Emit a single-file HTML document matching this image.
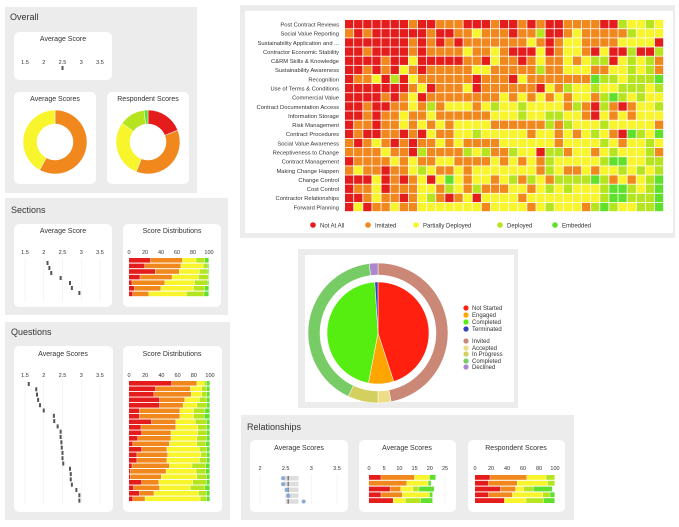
<!DOCTYPE html>
<html><head><meta charset="utf-8"><style>
html,body{margin:0;padding:0;background:#fff;}
svg{display:block;font-family:"Liberation Sans",sans-serif;}
</style></head><body>
<svg id="root" width="679" height="527" viewBox="0 0 679 527" xmlns="http://www.w3.org/2000/svg">
<!-- panels -->
<rect x="5" y="7" width="192" height="186" fill="#ececec"/>
<text x="10" y="20" font-size="9" fill="#333">Overall</text>
<rect x="14" y="32" width="98" height="48" rx="5" fill="#fff"/>
<text x="63" y="41" font-size="7" text-anchor="middle" fill="#333">Average Score</text>
<rect x="14" y="92" width="82" height="92" rx="5" fill="#fff"/>
<text x="55" y="101" font-size="7" text-anchor="middle" fill="#333">Average Scores</text>
<rect x="107" y="92" width="82" height="92" rx="5" fill="#fff"/>
<text x="148" y="101" font-size="7" text-anchor="middle" fill="#333">Respondent Scores</text>

<rect x="5" y="198" width="223" height="117" fill="#ececec"/>
<text x="11" y="213" font-size="9" fill="#333">Sections</text>
<rect x="14" y="224" width="98" height="83" rx="5" fill="#fff"/>
<text x="63" y="233" font-size="7" text-anchor="middle" fill="#333">Average Score</text>
<rect x="123" y="224" width="98" height="83" rx="5" fill="#fff"/>
<text x="172" y="233" font-size="7" text-anchor="middle" fill="#333">Score Distributions</text>

<rect x="5" y="322" width="225" height="198" fill="#ececec"/>
<text x="11" y="335" font-size="9" fill="#333">Questions</text>
<rect x="14" y="346" width="99" height="166" rx="5" fill="#fff"/>
<text x="63" y="356" font-size="7" text-anchor="middle" fill="#333">Average Scores</text>
<rect x="123" y="346" width="99" height="166" rx="5" fill="#fff"/>
<text x="172" y="356" font-size="7" text-anchor="middle" fill="#333">Score Distributions</text>

<rect x="240" y="5" width="435" height="233" fill="#ececec"/>
<rect x="245" y="11" width="428" height="222" fill="#fff"/>

<rect x="298" y="249" width="220" height="159" fill="#ececec"/>
<rect x="305" y="255" width="209" height="147" fill="#fff"/>

<rect x="241" y="415" width="333" height="105" fill="#ececec"/>
<text x="247" y="430" font-size="9" fill="#333">Relationships</text>
<rect x="250" y="440" width="98" height="72" rx="5" fill="#fff"/>
<text x="299" y="450" font-size="7" text-anchor="middle" fill="#333">Average Scores</text>
<rect x="359" y="440" width="97" height="72" rx="5" fill="#fff"/>
<text x="407" y="450" font-size="7" text-anchor="middle" fill="#333">Average Scores</text>
<rect x="468" y="440" width="97" height="72" rx="5" fill="#fff"/>
<text x="516" y="450" font-size="7" text-anchor="middle" fill="#333">Respondent Scores</text>
<g id="dyn"></g>
</svg>
<script>
const COLORS = ['#e51c1c','#f0881e','#f9f52c','#b6e520','#5fe02c'];
const heatRows = ["Post Contract Reviews","Social Value Reporting","Sustainability Application and ...","Contractor Economic Stability","C&RM Skills & Knowledge","Sustainability Awareness","Recognition","Use of Terms & Conditions","Commercial Value","Contract Documentation Access","Information Storage","Risk Management","Contract Procedures","Social Value Awareness","Receptiveness to Change","Contract Management","Making Change Happen","Change Control","Cost Control","Contractor Relationships","Forward Planning"];
const heatValues = [
"00000001001110001001010011110032232",
"10100000010011211101130012111113222",
"00000001010101111111210122111122220",
"00100001011112112100020122102003003",
"00001002000001102110121121233023231",
"00101021011111221111131122211223231",
"01120302111111011102111111143323334",
"00000001201112011111102132232233323",
"00001012011111111212121212213432322",
"00100112131222123223222213103101223",
"00101121121111112223223322102121222",
"01101121212122221111113132223222221",
"01001101021122322222122121232104324",
"10121010112121111222222122223212232",
"11112110311113231132203312212322231",
"01111212112211112121213222223442233",
"12110112321121222222213211212232323",
"00020101202421221231321333343121234",
"01120111221321311122123232223443234",
"00121101231012022221222222223443334",
"02011211222222212222123222134322334"];
const heatLegend = ["Not At All","Imitated","Partially Deployed","Deployed","Embedded"];

const overallAvg = [2.5];
const overallAvgDonut = [0,58,42,0,0];
const overallRespDonut = [19,37,29,13,2];
const avgTicks = [1.5,2,2.5,3,3.5];
const pctTicks = [0,20,40,60,80,100];
const sectionAvg = [2.1,2.15,2.2,2.45,2.7,2.75,2.95];
const sectionDist = [[27,40,17,11,5],[20,45,28,5,2],[33,30,25,10,2],[14,40,33,13,0],[4,41,37,16,2],[7,33,41,14,5],[5,20,47,22,6]];
const questionAvg = [1.6,1.8,1.82,1.85,1.9,2.0,2.27,2.28,2.37,2.45,2.45,2.47,2.48,2.5,2.5,2.52,2.7,2.72,2.72,2.75,2.87,2.95,2.95];
const questionDist = [[53,31,9,3,4],[33,43,14,6,4],[31,46,13,6,4],[38,31,18,9,4],[38,29,17,12,4],[13,50,17,14,6],[13,50,17,13,7],[28,30,24,14,4],[15,43,27,11,4],[16,36,33,11,4],[11,41,32,12,4],[5,45,34,11,5],[16,31,40,9,4],[10,38,41,7,4],[10,37,40,9,4],[4,46,28,17,5],[2,44,37,12,5],[2,38,44,12,4],[16,21,42,17,4],[6,32,38,18,6],[13,18,55,10,4],[5,15,68,8,4]];
const pieInnerLabels = ["Not Started","Engaged","Completed","Terminated"];
const pieInnerValues = [45,8,46,1];
const pieInnerColors = ['#ff2010','#ffa500','#55ee10','#3344bb'];
const pieOuterLabels = ["Invited","Accepted","In Progress","Completed","Declined"];
const pieOuterValues = [47,3,7,41,2];
const pieOuterColors = ['#cc8877','#eedd88','#d4d060','#77cc66','#aa88cc'];
const relAvgTicks = [2,2.5,3,3.5];
const relAvgLow = [2.45,2.45,2.48,2.5,2.5];
const relAvgHigh = [2.75,2.75,2.75,2.75,2.75];
const relAvgMean = [2.45,2.45,2.52,2.55,2.85];
const relCountTicks = [0,5,10,15,20,25];
const relCounts = [[4,11,5,0,2],[0,12.5,7,0,1],[7,3.5,4,2,5],[4,7,9,0,1],[8,0,4,5,4]];
const relPct = [[19,46,24,11,0],[17,36,38,9,0],[32,19,10,12,24],[17,30,38,9,6],[37,0,27,22,14]];

const NS='http://www.w3.org/2000/svg';
const G=document.getElementById('dyn');
function mk(tag,a){const e=document.createElementNS(NS,tag);for(const k in a)e.setAttribute(k,a[k]);G.appendChild(e);return e;}
function lin(d0,d1,r0,r1){return v=>r0+(v-d0)/(d1-d0)*(r1-r0);}
function txt(x,y,s,size,anchor,name){const t=mk('text',{x:x,y:y,'font-size':size,'text-anchor':anchor,fill:'#333'});t.textContent=s;


return t;}

// Heatmap
const hx=lin(0,35,345,664), hy=lin(0,21,20,212);
heatRows.forEach((r,i)=>{
  txt(339,hy(i)+6.5,r,5.8,'end','heatmap-row-label');
  const row=heatValues[i];
  for(let j=0;j<row.length;j++){
    const c=mk('rect',{x:hx(j),y:hy(i),width:hx(1)-hx(0)-0.8,height:hy(1)-hy(0)-0.8,fill:COLORS[+row[j]]});
    
    
  }
});
const legX=[313,368,416,500,555];
heatLegend.forEach((l,i)=>{
  const d=mk('circle',{cx:legX[i],cy:225,r:2.8,fill:COLORS[i]});
  
  
  txt(legX[i]+7,227.5,l,6,'start','heatmap-legend-label');
});

// Donut helper
function arc(cx,cy,r0,r1,a0,a1,fill,name){
  const p=(a,r)=>[cx+r*Math.sin(a),cy-r*Math.cos(a)];
  const large=(a1-a0)>Math.PI?1:0;
  const [x1,y1]=p(a0,r1),[x2,y2]=p(a1,r1);
  let d;
  if(r0>0){const [x3,y3]=p(a1,r0),[x4,y4]=p(a0,r0);
    d=`M${x1},${y1}A${r1},${r1} 0 ${large} 1 ${x2},${y2}L${x3},${y3}A${r0},${r0} 0 ${large} 0 ${x4},${y4}Z`;}
  else d=`M${cx},${cy}L${x1},${y1}A${r1},${r1} 0 ${large} 1 ${x2},${y2}Z`;
  const e=mk('path',{d:d,fill:fill,stroke:'#fff','stroke-width':0.5});
  
  
}
function donut(cx,cy,r0,r1,vals,cols,name){
  const tot=vals.reduce((a,b)=>a+b,0);let a=0;
  vals.forEach((v,i)=>{if(v<=0)return;const b=a+v/tot*2*Math.PI;arc(cx,cy,r0,r1,a,Math.min(b,2*Math.PI-1e-4),cols[i],name);a=b;});
}
donut(55,142,18,32,overallAvgDonut,COLORS,'overall-average-donut-slice');
donut(148,142,18,32,overallRespDonut,COLORS,'overall-respondent-donut-slice');

// Axis helpers
function ticks(list,sc,y,name){list.forEach(t=>txt(sc(t),y,String(t),5.5,'middle',name));}
function grid(list,sc,y0,y1){list.forEach(t=>{const l=mk('line',{x1:sc(t),x2:sc(t),y1:y0,y2:y1,stroke:'#eee','stroke-width':0.6});

});}

// Overall avg
const oa=lin(1.5,3.5,25,100);
ticks(avgTicks,oa,64,'overall-avg-tick');
overallAvg.forEach(v=>{const m=mk('rect',{x:oa(v)-1,y:66,width:2,height:4,fill:'#555'});

});

// Sections avg
const sa=lin(1.5,3.5,25,100);
ticks(avgTicks,sa,254,'sections-avg-tick');
grid(avgTicks,sa,258,302);
sectionAvg.forEach((v,i)=>{const m=mk('rect',{x:sa(v)-1,y:261+i*5,width:2,height:4,fill:'#555'});

});

// stacked bars helper
function stacked(data,sc,y0,step,h,name){
  data.forEach((row,i)=>{let acc=0;row.forEach((v,k)=>{if(v<=0)return;
    const r=mk('rect',{x:sc(acc),y:y0+i*step,width:sc(acc+v)-sc(acc)-0.4,height:h,fill:COLORS[k]});
    
    
    acc+=v;});});
}
const sd=lin(0,100,129,209);
ticks(pctTicks,sd,254,'sections-dist-tick');
stacked(sectionDist,sd,258,5.6,4.6,'sections-dist-segment');

// Questions avg
const qa=lin(1.5,3.5,25,100);
ticks(avgTicks,qa,377,'questions-avg-tick');
grid(avgTicks,qa,380,505);
questionAvg.forEach((v,i)=>{const m=mk('rect',{x:qa(v)-1,y:382+i*5.3,width:2,height:4,fill:'#555'});

});

// Questions dist
const qd=lin(0,100,129,210);
ticks(pctTicks,qd,377,'questions-dist-tick');
stacked(questionDist,qd,381,5.5,4.6,'questions-dist-segment');

// Pie
donut(378,333,58,70,pieOuterValues,pieOuterColors,'pie-outer-slice');
donut(378,333,0,51,pieInnerValues,pieInnerColors,'pie-inner-slice');
const legYIn=[308,315,322,329], legYOut=[341,348,354,361,367];
pieInnerLabels.forEach((l,i)=>{const d=mk('circle',{cx:466,cy:legYIn[i],r:2.6,fill:pieInnerColors[i]});


txt(472,legYIn[i]+2.2,l,6,'start','pie-legend-label');});
pieOuterLabels.forEach((l,i)=>{const d=mk('circle',{cx:466,cy:legYOut[i],r:2.6,fill:pieOuterColors[i]});


txt(472,legYOut[i]+2.2,l,6,'start','pie-legend-label');});

// Relationships avg
const ra=lin(2,3.5,260,337);
ticks(relAvgTicks,ra,470,'rel-avg-tick');
grid(relAvgTicks,ra,474,504);
relAvgLow.forEach((v,i)=>{const y=476+i*5.8;
  const b=mk('rect',{x:ra(v),y:y,width:ra(relAvgHigh[i])-ra(v),height:4.5,fill:'#ddd'});
  
  
  const m=mk('rect',{x:ra(2.55)-0.7,y:y,width:1.4,height:4.5,fill:'#777'});
  
  
  const c=mk('circle',{cx:ra(relAvgMean[i]),cy:y+2.3,r:2,fill:'#8aa8d8'});
  
  
});

// Relationships counts
const rc=lin(0,25,369,445);
ticks(relCountTicks,rc,470,'rel-count-tick');
grid(relCountTicks,rc,474,504);
stacked(relCounts,rc,475,5.8,4.8,'rel-count-segment');

// Relationships pct
const rp=lin(0,100,475,555);
ticks(pctTicks,rp,470,'rel-pct-tick');
stacked(relPct,rp,475,5.8,4.8,'rel-pct-segment');
</script>
</body></html>
